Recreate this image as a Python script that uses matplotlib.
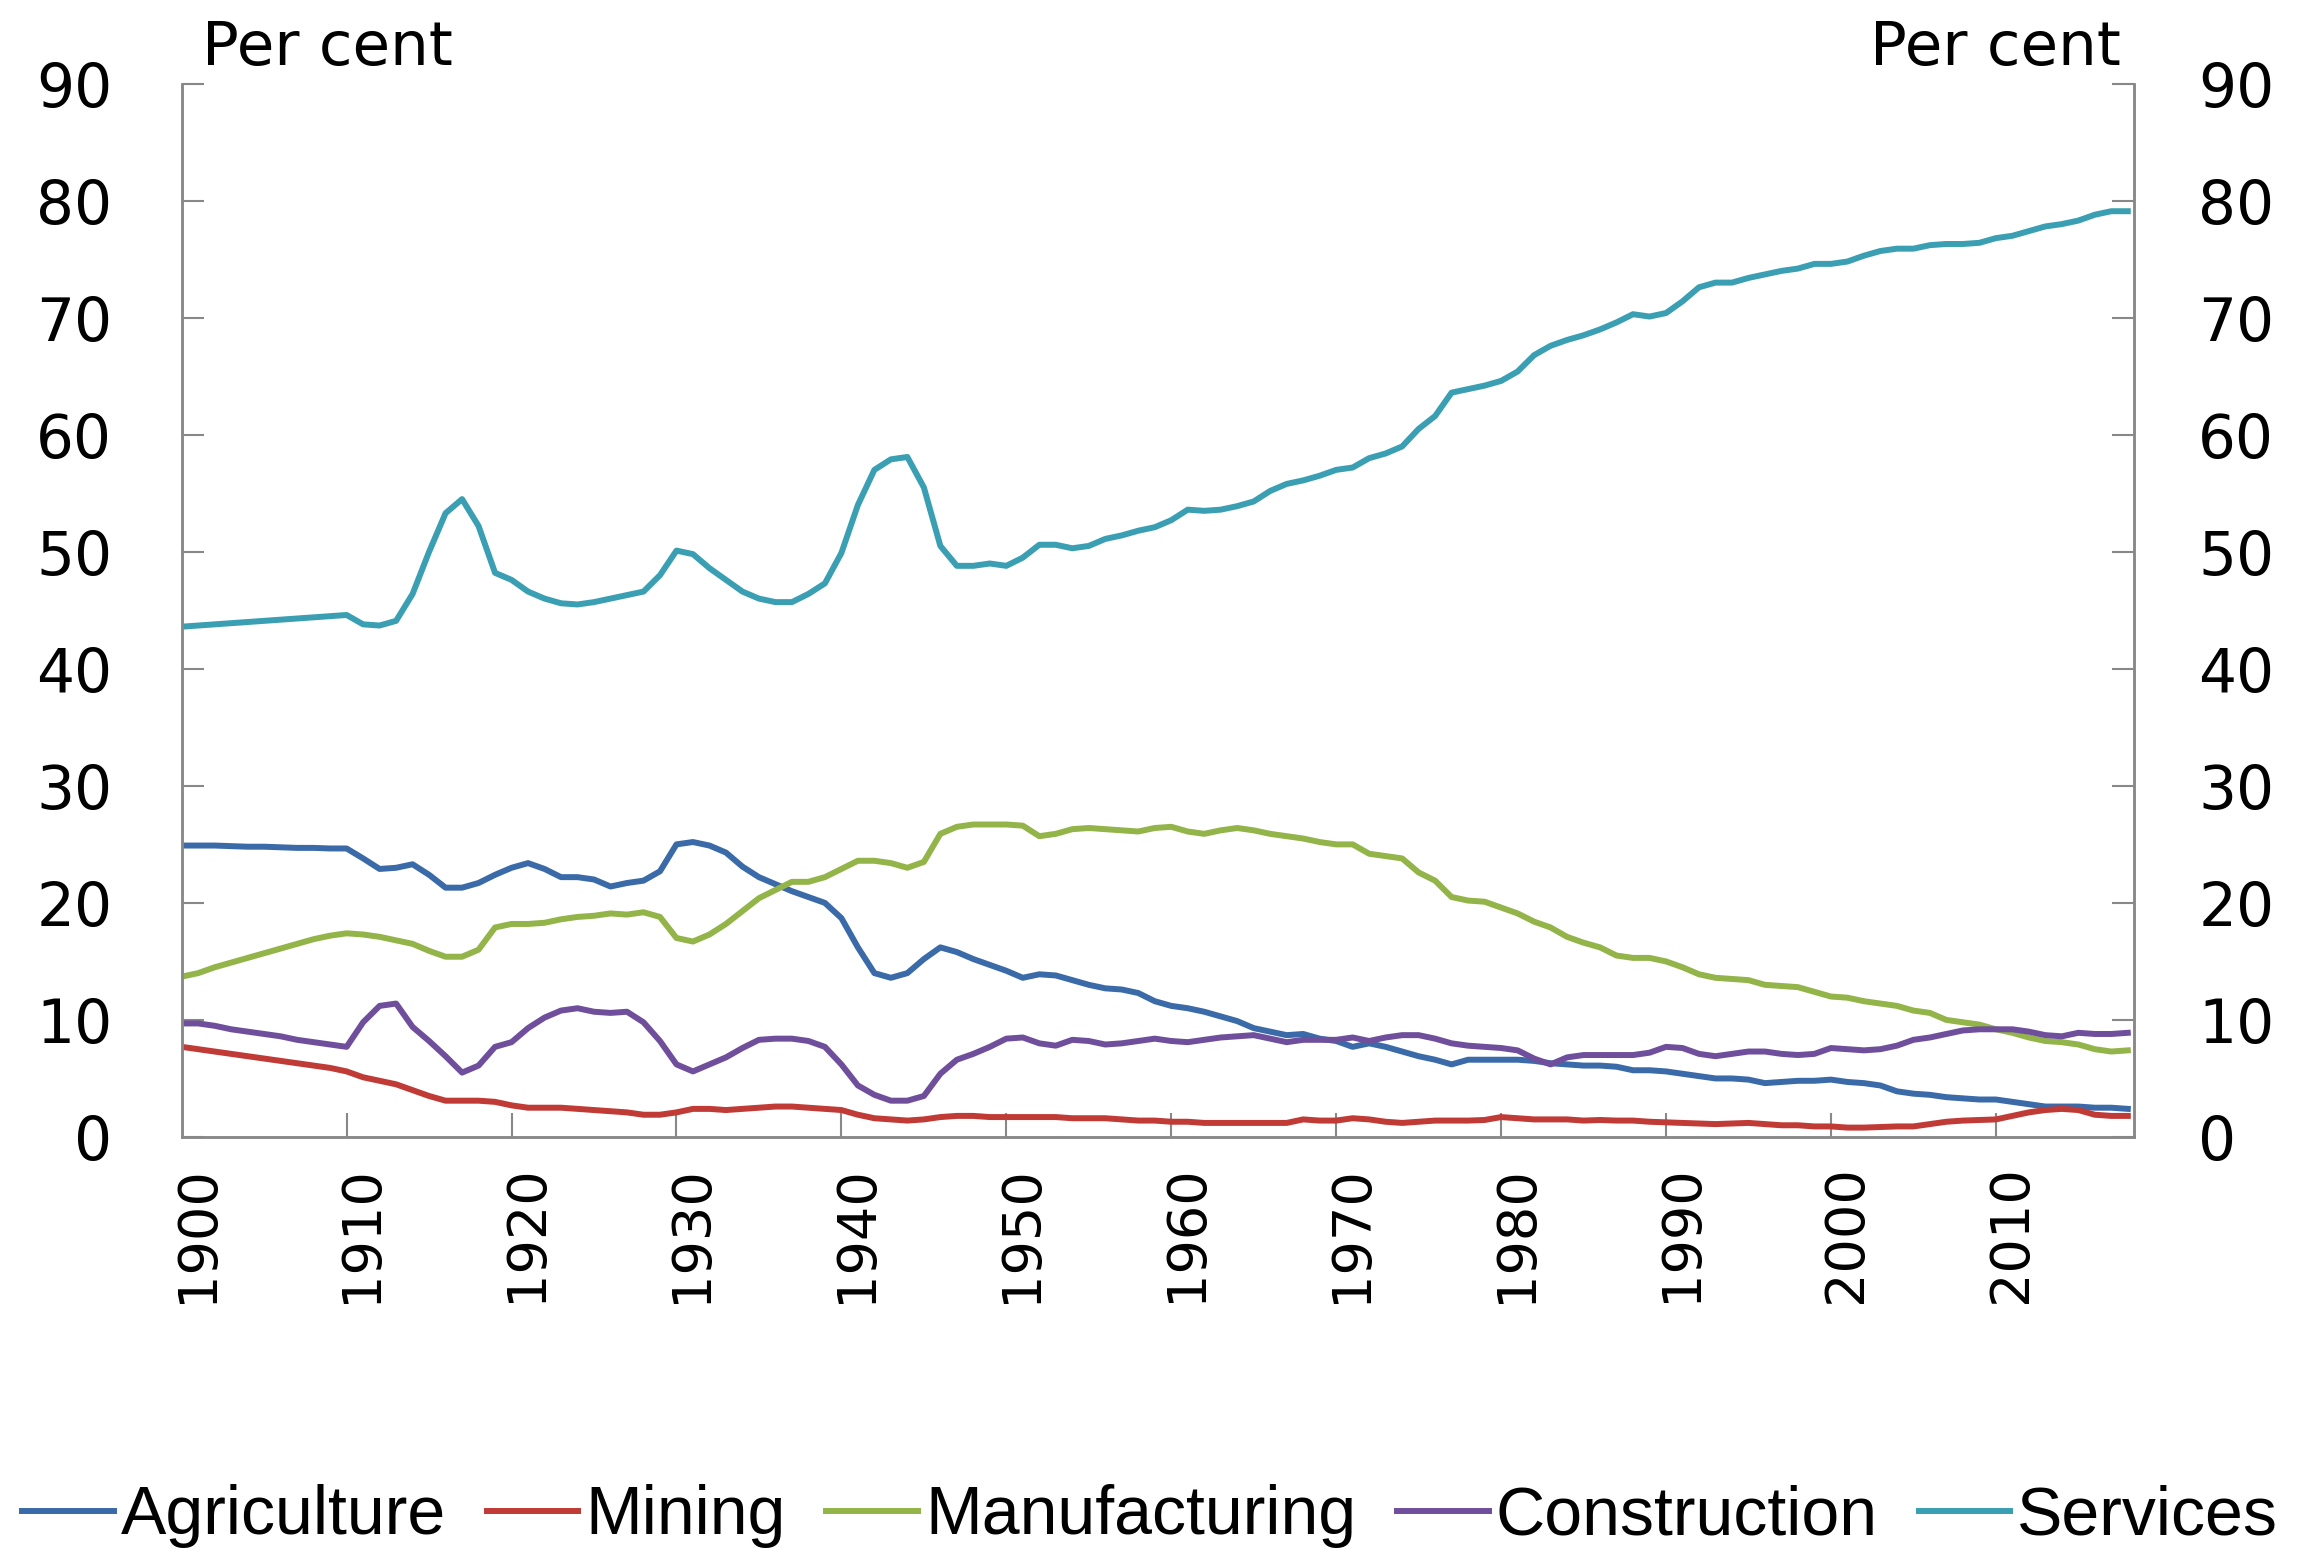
import numpy as np
import matplotlib
matplotlib.use("Agg")
import matplotlib.pyplot as plt

years = list(range(1900, 2019))

agriculture = [
    24.9, 24.9, 24.9, 24.85, 24.8, 24.8, 24.75, 24.7, 24.7, 24.65,
    24.65, 23.8, 22.9, 23.0, 23.3, 22.4, 21.3, 21.3, 21.7, 22.4,
    23.0, 23.4, 22.9, 22.2, 22.2, 22.0, 21.4, 21.7, 21.9, 22.7,
    25.0, 25.2, 24.9, 24.3, 23.1, 22.2, 21.6, 21.0, 20.5, 20.0,
    18.7, 16.2, 14.0, 13.6, 14.0, 15.2, 16.2, 15.8, 15.2, 14.7,
    14.2, 13.6, 13.9, 13.8, 13.4, 13.0, 12.7, 12.6, 12.3, 11.6,
    11.2, 11.0, 10.7, 10.3, 9.9, 9.3, 9.0, 8.7, 8.8, 8.4,
    8.2, 7.7, 8.0, 7.7, 7.3, 6.9, 6.6, 6.2, 6.6, 6.6,
    6.6, 6.6, 6.5, 6.3, 6.2, 6.1, 6.1, 6.0, 5.7, 5.7,
    5.6, 5.4, 5.2, 5.0, 5.0, 4.9, 4.6, 4.7, 4.8, 4.8,
    4.9, 4.7, 4.6, 4.4, 3.9, 3.7, 3.6, 3.4, 3.3, 3.2,
    3.2, 3.0, 2.8, 2.6, 2.6, 2.6, 2.5, 2.5, 2.4,
]

mining = [
    7.7, 7.5, 7.3, 7.1, 6.9, 6.7, 6.5, 6.3, 6.1, 5.9,
    5.6, 5.1, 4.8, 4.5, 4.0, 3.5, 3.1, 3.1, 3.1, 3.0,
    2.7, 2.5, 2.5, 2.5, 2.4, 2.3, 2.2, 2.1, 1.9, 1.9,
    2.1, 2.4, 2.4, 2.3, 2.4, 2.5, 2.6, 2.6, 2.5, 2.4,
    2.3, 1.9, 1.6, 1.5, 1.4, 1.5, 1.7, 1.8, 1.8, 1.7,
    1.7, 1.7, 1.7, 1.7, 1.6, 1.6, 1.6, 1.5, 1.4, 1.4,
    1.3, 1.3, 1.2, 1.2, 1.2, 1.2, 1.2, 1.2, 1.5, 1.4,
    1.4, 1.6, 1.5, 1.3, 1.2, 1.3, 1.4, 1.4, 1.4, 1.45,
    1.7, 1.6, 1.5, 1.5, 1.5, 1.4, 1.45, 1.4, 1.4, 1.3,
    1.25, 1.2, 1.15, 1.1, 1.15, 1.2, 1.1, 1.0, 1.0, 0.9,
    0.9, 0.8, 0.8, 0.85, 0.9, 0.9, 1.1, 1.3, 1.4, 1.45,
    1.5, 1.8, 2.1, 2.3, 2.4, 2.3, 1.9, 1.8, 1.8,
]

manufacturing = [
    13.7, 14.0, 14.5, 14.9, 15.3, 15.7, 16.1, 16.5, 16.9, 17.2,
    17.4, 17.3, 17.1, 16.8, 16.5, 15.9, 15.4, 15.4, 16.0, 17.9,
    18.2, 18.2, 18.3, 18.6, 18.8, 18.9, 19.1, 19.0, 19.2, 18.8,
    17.0, 16.7, 17.3, 18.2, 19.3, 20.4, 21.1, 21.8, 21.8, 22.2,
    22.9, 23.6, 23.6, 23.4, 23.0, 23.5, 25.9, 26.5, 26.7, 26.7,
    26.7, 26.6, 25.7, 25.9, 26.3, 26.4, 26.3, 26.2, 26.1, 26.4,
    26.5, 26.1, 25.9, 26.2, 26.4, 26.2, 25.9, 25.7, 25.5, 25.2,
    25.0, 25.0, 24.2, 24.0, 23.8, 22.6, 21.9, 20.5, 20.2, 20.1,
    19.6, 19.1, 18.4, 17.9, 17.1, 16.6, 16.2, 15.5, 15.3, 15.3,
    15.0, 14.5, 13.9, 13.6, 13.5, 13.4, 13.0, 12.9, 12.8, 12.4,
    12.0, 11.9, 11.6, 11.4, 11.2, 10.8, 10.6, 10.0, 9.8, 9.6,
    9.2, 8.9, 8.5, 8.2, 8.1, 7.9, 7.5, 7.3, 7.4,
]

construction = [
    9.7, 9.7, 9.5, 9.2, 9.0, 8.8, 8.6, 8.3, 8.1, 7.9,
    7.7, 9.8, 11.2, 11.4, 9.4, 8.2, 6.9, 5.5, 6.1, 7.7,
    8.1, 9.3, 10.2, 10.8, 11.0, 10.7, 10.6, 10.7, 9.8, 8.2,
    6.2, 5.6, 6.2, 6.8, 7.6, 8.3, 8.4, 8.4, 8.2, 7.7,
    6.2, 4.4, 3.6, 3.1, 3.1, 3.5, 5.4, 6.6, 7.1, 7.7,
    8.4, 8.5, 8.0, 7.8, 8.3, 8.2, 7.9, 8.0, 8.2, 8.4,
    8.2, 8.1, 8.3, 8.5, 8.6, 8.7, 8.4, 8.1, 8.3, 8.3,
    8.3, 8.5, 8.2, 8.5, 8.7, 8.7, 8.4, 8.0, 7.8, 7.7,
    7.6, 7.4, 6.7, 6.2, 6.8, 7.0, 7.0, 7.0, 7.0, 7.2,
    7.7, 7.6, 7.1, 6.9, 7.1, 7.3, 7.3, 7.1, 7.0, 7.1,
    7.6, 7.5, 7.4, 7.5, 7.8, 8.3, 8.5, 8.8, 9.1, 9.2,
    9.2, 9.2, 9.0, 8.7, 8.6, 8.9, 8.8, 8.8, 8.9,
]

services = [
    43.6, 43.7, 43.8, 43.9, 44.0, 44.1, 44.2, 44.3, 44.4, 44.5,
    44.6, 43.8, 43.7, 44.1, 46.4, 50.0, 53.3, 54.5, 52.2, 48.2,
    47.6, 46.6, 46.0, 45.6, 45.5, 45.7, 46.0, 46.3, 46.6, 48.0,
    50.1, 49.8, 48.6, 47.6, 46.6, 46.0, 45.7, 45.7, 46.4, 47.3,
    49.9, 54.0, 57.0, 57.9, 58.1, 55.5, 50.5, 48.8, 48.8, 49.0,
    48.8, 49.5, 50.6, 50.6, 50.3, 50.5, 51.1, 51.4, 51.8, 52.1,
    52.7, 53.6, 53.5, 53.6, 53.9, 54.3, 55.2, 55.8, 56.1, 56.5,
    57.0, 57.2, 58.0, 58.4, 59.0, 60.5, 61.6, 63.6, 63.9, 64.2,
    64.6, 65.4, 66.8, 67.6, 68.1, 68.5, 69.0, 69.6, 70.3, 70.1,
    70.4, 71.4, 72.6, 73.0, 73.0, 73.4, 73.7, 74.0, 74.2, 74.6,
    74.6, 74.8, 75.3, 75.7, 75.9, 75.9, 76.2, 76.3, 76.3, 76.4,
    76.8, 77.0, 77.4, 77.8, 78.0, 78.3, 78.8, 79.1, 79.1,
]

series_names = ["Agriculture", "Mining", "Manufacturing", "Construction", "Services"]
series_colors = ["#3a6aa8", "#c03a36", "#93b448", "#6f4f9c", "#3a9fb2"]

decades = list(range(1900, 2020, 10))

plt.rcParams['font.family'] = ['DejaVu Sans']

fig = plt.figure(figsize=(23, 15.49), dpi=100)
ax = fig.add_axes([0.079, 0.266, 0.849, 0.680])

for name, vals, col in zip(series_names,
                           [agriculture, mining, manufacturing, construction, services],
                           series_colors):
    ax.plot(years, vals, color=col, lw=4.3, label=name, solid_joinstyle='round')

ax.set_xlim(1900, 2018.4)
ax.set_ylim(0, 90)
ax.set_yticks(range(0, 91, 10))

# ticks on the decade boundaries, labels a little to the right
ax.set_xticks(decades[1:])
ax.set_xticklabels([])
ax.set_xticks([d + 0.9 for d in decades], minor=True)
ax.set_xticklabels([str(d) for d in decades], minor=True, rotation=90,
                   fontsize=39, va='top', ha='center')
ax.tick_params(axis='x', which='major', direction='in', length=17, width=1.5,
               color='#888888')
ax.tick_params(axis='x', which='minor', length=0, pad=20)
ax.tick_params(axis='y', direction='in', length=16, width=1.5, color='#888888',
               labelsize=43, pad=50)

ax2 = ax.twinx()
ax2.set_ylim(0, 90)
ax2.set_yticks(range(0, 91, 10))
ax2.tick_params(axis='y', direction='in', length=16, width=1.5, color='#888888',
                labelsize=43, pad=46)

for a in (ax, ax2):
    a.spines['top'].set_visible(False)
    for s in ('left', 'right', 'bottom'):
        a.spines[s].set_color('#888888')
        a.spines[s].set_linewidth(1.8)

fig.text(0.088, 0.969, "Per cent", fontsize=44, ha='left', va='center')
fig.text(0.922, 0.969, "Per cent", fontsize=44, ha='right', va='center')

handles, labels = ax.get_legend_handles_labels()
fig.legend(handles, labels, loc='center', bbox_to_anchor=(0.5, 0.021), ncol=5,
           frameon=False, handlelength=1.35, handletextpad=0.1, columnspacing=0.6,
           prop={'family': 'Liberation Sans', 'size': 49})

fig.savefig("out.png", dpi=100)
